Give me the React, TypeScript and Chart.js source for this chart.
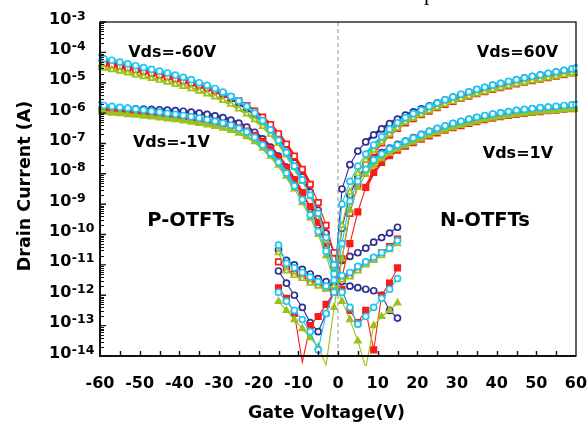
import React, { useEffect, useRef } from "react";
import { Chart, registerables } from "chart.js";

Chart.register(...registerables);

// Gate voltage sweeps (V)
const P_GATE = [-60, -59, -57, -55, -53, -51, -49, -47, -45, -43, -41, -39, -37, -35, -33, -31, -29, -27, -25, -23, -21, -19, -17, -15, -13, -11, -9, -7, -5, -3, -1, 1, 3, 5, 7, 9, 11, 13, 15];
const N_GATE = [-15, -13, -11, -9, -7, -5, -3, -1, 1, 3, 5, 7, 9, 11, 13, 15, 17, 19, 21, 23, 25, 27, 29, 31, 33, 35, 37, 39, 41, 43, 45, 47, 49, 51, 53, 55, 57, 59, 60];

// P-OTFTs, Vds = -60 V (A)
const P60_CYAN = [6.61e-5, 6.17e-5, 5.5e-5, 4.79e-5, 4.17e-5, 3.63e-5, 3.16e-5, 2.75e-5, 2.4e-5, 2.09e-5, 1.78e-5, 1.51e-5, 1.26e-5, 1.0e-5, 8.13e-6, 6.46e-6, 4.9e-6, 3.55e-6, 2.51e-6, 1.66e-6, 1.0e-6, 5.62e-7, 2.82e-7, 1.26e-7, 5.01e-8, 1.78e-8, 6.31e-9, 2.0e-9, 5.01e-10, 7.94e-11, 1.0e-11, 4.47e-12, 5.62e-12, 8.91e-12, 1.26e-11, 1.78e-11, 2.51e-11, 3.55e-11, 6.31e-11];
const P60_RED = [4.47e-5, 4.27e-5, 3.8e-5, 3.39e-5, 3.02e-5, 2.63e-5, 2.34e-5, 2.04e-5, 1.78e-5, 1.55e-5, 1.35e-5, 1.15e-5, 9.77e-6, 8.13e-6, 6.76e-6, 5.5e-6, 4.37e-6, 3.39e-6, 2.51e-6, 1.78e-6, 1.17e-6, 7.41e-7, 4.17e-7, 2.09e-7, 9.55e-8, 3.8e-8, 1.41e-8, 4.47e-9, 1.12e-9, 2.0e-10, 2.51e-11, 3.98e-12, 5.01e-12, 7.94e-12, 1.12e-11, 1.58e-11, 2.51e-11, 3.98e-11, 7.08e-11];
const P60_GREEN = [3.16e-5, 3.02e-5, 2.69e-5, 2.4e-5, 2.09e-5, 1.82e-5, 1.58e-5, 1.38e-5, 1.2e-5, 1.05e-5, 8.91e-6, 7.59e-6, 6.31e-6, 5.25e-6, 4.27e-6, 3.39e-6, 2.63e-6, 1.95e-6, 1.38e-6, 9.33e-7, 6.03e-7, 3.63e-7, 2.0e-7, 1.0e-7, 4.17e-8, 1.58e-8, 5.62e-9, 1.78e-9, 4.47e-10, 6.31e-11, 7.94e-12, 3.16e-12, 3.98e-12, 6.31e-12, 1.0e-11, 1.41e-11, 2.0e-11, 3.16e-11, 5.01e-11];
const P60_NAVY = [5.37e-5, 5.01e-5, 4.47e-5, 3.89e-5, 3.39e-5, 2.95e-5, 2.57e-5, 2.24e-5, 1.95e-5, 1.7e-5, 1.45e-5, 1.23e-5, 1.02e-5, 8.32e-6, 6.76e-6, 5.37e-6, 4.07e-6, 3.02e-6, 2.14e-6, 1.45e-6, 9.12e-7, 5.37e-7, 2.88e-7, 1.41e-7, 6.03e-8, 2.29e-8, 7.94e-9, 2.51e-9, 6.31e-10, 1.12e-10, 2.51e-11, 1.41e-11, 1.91e-11, 2.51e-11, 3.55e-11, 5.62e-11, 7.94e-11, 1.12e-10, 1.74e-10];

// P-OTFTs, Vds = -1 V (A)
const P1_CYAN = [1.86e-6, 1.78e-6, 1.66e-6, 1.55e-6, 1.45e-6, 1.35e-6, 1.26e-6, 1.15e-6, 1.07e-6, 9.77e-7, 9.12e-7, 8.32e-7, 7.59e-7, 6.76e-7, 6.03e-7, 5.37e-7, 4.68e-7, 3.98e-7, 3.16e-7, 2.4e-7, 1.58e-7, 8.91e-8, 4.79e-8, 2.4e-8, 1.05e-8, 3.98e-9, 1.41e-9, 4.47e-10, 1.26e-10, 2.82e-11, 5.01e-12, 1.26e-12, 3.98e-13, 1.12e-13, 2.0e-13, 3.98e-13, 7.94e-13, 1.58e-12, 3.55e-12];
const P1_RED = [1.41e-6, 1.38e-6, 1.29e-6, 1.23e-6, 1.15e-6, 1.1e-6, 1.02e-6, 9.55e-7, 8.91e-7, 8.32e-7, 7.76e-7, 7.24e-7, 6.61e-7, 6.03e-7, 5.5e-7, 5.01e-7, 4.47e-7, 3.89e-7, 3.24e-7, 2.57e-7, 1.86e-7, 1.17e-7, 6.61e-8, 3.47e-8, 1.58e-8, 6.31e-9, 2.4e-9, 8.32e-10, 2.51e-10, 5.01e-11, 1.0e-11, 1.58e-12, 3.16e-13, 1.26e-13, 3.16e-13, 1.58e-14, 1.0e-12, 2.51e-12, 7.94e-12];
const P1_GREEN = [1.1e-6, 1.07e-6, 1.0e-6, 9.55e-7, 8.91e-7, 8.51e-7, 7.94e-7, 7.41e-7, 6.92e-7, 6.46e-7, 6.03e-7, 5.5e-7, 5.01e-7, 4.57e-7, 4.07e-7, 3.63e-7, 3.16e-7, 2.69e-7, 2.19e-7, 1.66e-7, 1.15e-7, 6.92e-8, 3.8e-8, 1.91e-8, 8.32e-9, 3.16e-9, 1.12e-9, 3.55e-10, 1.0e-10, 2.0e-11, 3.16e-12, 6.31e-13, 1.58e-13, 3.16e-14, 3.98e-15, 1.0e-13, 2.0e-13, 3.16e-13, 5.62e-13];
const P1_NAVY = [1.51e-6, 1.51e-6, 1.48e-6, 1.45e-6, 1.41e-6, 1.38e-6, 1.35e-6, 1.32e-6, 1.29e-6, 1.26e-6, 1.2e-6, 1.15e-6, 1.07e-6, 1.0e-6, 9.12e-7, 8.13e-7, 7.08e-7, 5.89e-7, 4.68e-7, 3.47e-7, 2.34e-7, 1.41e-7, 7.59e-8, 3.8e-8, 1.66e-8, 6.31e-9, 2.24e-9, 7.08e-10, 2.0e-10, 3.98e-11, 7.94e-12, 2.82e-12, 2.0e-12, 1.78e-12, 1.58e-12, 1.41e-12, 1.0e-12, 3.16e-13, 1.78e-13];

// N-OTFTs, Vds = 60 V (A)
const N60_CYAN = [4.47e-11, 1.12e-11, 7.94e-12, 5.62e-12, 3.98e-12, 2.82e-12, 2.0e-12, 3.16e-12, 1.0e-9, 5.62e-9, 1.78e-8, 4.47e-8, 8.91e-8, 1.66e-7, 2.95e-7, 4.79e-7, 7.08e-7, 9.55e-7, 1.26e-6, 1.66e-6, 2.14e-6, 2.75e-6, 3.39e-6, 4.17e-6, 5.01e-6, 6.03e-6, 7.08e-6, 8.32e-6, 9.55e-6, 1.1e-5, 1.26e-5, 1.45e-5, 1.62e-5, 1.82e-5, 2.04e-5, 2.29e-5, 2.57e-5, 2.88e-5, 3.02e-5];
const N60_GREEN = [2.51e-11, 6.31e-12, 4.47e-12, 3.55e-12, 2.51e-12, 2.0e-12, 1.58e-12, 2.0e-12, 2.0e-10, 2.51e-9, 1.0e-8, 2.82e-8, 6.03e-8, 1.12e-7, 2.0e-7, 3.24e-7, 4.9e-7, 6.76e-7, 8.91e-7, 1.17e-6, 1.51e-6, 1.95e-6, 2.4e-6, 2.95e-6, 3.55e-6, 4.27e-6, 5.01e-6, 5.89e-6, 6.76e-6, 7.76e-6, 8.91e-6, 1.02e-5, 1.15e-5, 1.29e-5, 1.45e-5, 1.62e-5, 1.82e-5, 2.04e-5, 2.14e-5];
const N60_RED = [1.26e-11, 7.08e-12, 5.01e-12, 3.98e-12, 3.16e-12, 2.51e-12, 1.78e-12, 1.26e-12, 1.58e-11, 5.01e-10, 4.47e-9, 2.0e-8, 5.25e-8, 1.05e-7, 1.91e-7, 3.16e-7, 4.79e-7, 6.61e-7, 8.91e-7, 1.17e-6, 1.51e-6, 1.95e-6, 2.45e-6, 3.02e-6, 3.63e-6, 4.37e-6, 5.13e-6, 6.03e-6, 6.92e-6, 7.94e-6, 9.12e-6, 1.05e-5, 1.17e-5, 1.32e-5, 1.48e-5, 1.66e-5, 1.86e-5, 2.09e-5, 2.19e-5];
const N60_NAVY = [3.16e-11, 1.41e-11, 1.0e-11, 7.08e-12, 5.01e-12, 3.55e-12, 2.82e-12, 2.0e-12, 3.16e-9, 2.0e-8, 5.62e-8, 1.12e-7, 1.91e-7, 3.02e-7, 4.47e-7, 6.31e-7, 8.51e-7, 1.1e-6, 1.38e-6, 1.74e-6, 2.19e-6, 2.75e-6, 3.39e-6, 4.07e-6, 4.9e-6, 5.89e-6, 6.92e-6, 8.13e-6, 9.33e-6, 1.07e-5, 1.23e-5, 1.41e-5, 1.58e-5, 1.78e-5, 2.0e-5, 2.24e-5, 2.51e-5, 2.82e-5, 2.95e-5];

// N-OTFTs, Vds = 1 V (A)
const N1_CYAN = [1.26e-12, 6.31e-13, 3.16e-13, 1.58e-13, 6.31e-14, 1.58e-14, 2.51e-13, 1.26e-12, 5.01e-11, 1.26e-9, 5.62e-9, 1.41e-8, 2.82e-8, 4.47e-8, 6.61e-8, 8.91e-8, 1.17e-7, 1.51e-7, 1.95e-7, 2.51e-7, 3.16e-7, 3.8e-7, 4.57e-7, 5.37e-7, 6.31e-7, 7.24e-7, 8.32e-7, 9.33e-7, 1.02e-6, 1.12e-6, 1.23e-6, 1.32e-6, 1.41e-6, 1.51e-6, 1.58e-6, 1.66e-6, 1.78e-6, 1.86e-6, 1.91e-6];
const N1_GREEN = [6.31e-13, 3.16e-13, 1.58e-13, 7.94e-14, 3.98e-14, 2.0e-14, 5.01e-15, 3.98e-13, 1.58e-11, 6.31e-10, 3.55e-9, 9.55e-9, 1.91e-8, 3.16e-8, 4.68e-8, 6.46e-8, 8.51e-8, 1.1e-7, 1.41e-7, 1.82e-7, 2.29e-7, 2.75e-7, 3.31e-7, 3.89e-7, 4.57e-7, 5.25e-7, 6.03e-7, 6.76e-7, 7.41e-7, 8.13e-7, 8.91e-7, 9.55e-7, 1.02e-6, 1.1e-6, 1.15e-6, 1.2e-6, 1.29e-6, 1.35e-6, 1.38e-6];
const N1_RED = [1.74e-12, 7.94e-13, 2.51e-13, 6.31e-15, 1.0e-13, 2.0e-13, 5.01e-13, 1.26e-12, 3.98e-12, 5.01e-11, 5.62e-10, 3.55e-9, 1.12e-8, 2.4e-8, 3.98e-8, 6.03e-8, 8.13e-8, 1.07e-7, 1.38e-7, 1.78e-7, 2.24e-7, 2.75e-7, 3.31e-7, 3.89e-7, 4.57e-7, 5.25e-7, 6.03e-7, 6.76e-7, 7.59e-7, 8.32e-7, 9.12e-7, 9.77e-7, 1.05e-6, 1.12e-6, 1.2e-6, 1.26e-6, 1.35e-6, 1.41e-6, 1.45e-6];
const N1_NAVY = [6.31e-12, 2.51e-12, 1.0e-12, 3.98e-13, 1.26e-13, 6.31e-14, 2.51e-13, 1.58e-12, 1.58e-10, 2.0e-9, 7.94e-9, 1.78e-8, 3.31e-8, 5.01e-8, 7.08e-8, 9.33e-8, 1.2e-7, 1.55e-7, 2.0e-7, 2.51e-7, 3.09e-7, 3.72e-7, 4.47e-7, 5.25e-7, 6.17e-7, 7.08e-7, 8.13e-7, 9.12e-7, 1.0e-6, 1.1e-6, 1.2e-6, 1.29e-6, 1.38e-6, 1.48e-6, 1.55e-6, 1.62e-6, 1.74e-6, 1.82e-6, 1.86e-6];

// Vg = 0 reference line
const ZERO_LINE_X = [0, 0];
const ZERO_LINE_Y = [1e-3, 1e-14];

// Axis ticks
const X_LABELS = [-60, -50, -40, -30, -20, -10, 0, 10, 20, 30, 40, 50, 60];
const X_MARKS = [-55, -50, -45, -40, -35, -30, -25, -20, -15, -10, -5, 0, 5, 10, 15, 20, 25, 30, 35, 40, 45, 50, 55];
const Y_EXPONENTS = [-3, -4, -5, -6, -7, -8, -9, -10, -11, -12, -13, -14];
const Y_MINOR_MULT = [2, 3, 4, 5, 6, 7, 8, 9];

const NAVY = "#2e3192";
const RED = "#ff1a1a";
const CYAN = "#1ec6f2";
const GREEN = "#99c31a";

const SERIES = [
  { label: "P Vds=-60V a", gate: P_GATE, current: P60_CYAN, color: CYAN, marker: "circle", filled: false, layer: 1 },
  { label: "P Vds=-60V b", gate: P_GATE, current: P60_GREEN, color: GREEN, marker: "triangle", filled: false, layer: 2 },
  { label: "P Vds=-60V c", gate: P_GATE, current: P60_RED, color: RED, marker: "rect", filled: false, layer: 3 },
  { label: "P Vds=-60V d", gate: P_GATE, current: P60_NAVY, color: NAVY, marker: "circle", filled: false, layer: 4 },
  { label: "P Vds=-1V a", gate: P_GATE, current: P1_CYAN, color: CYAN, marker: "circle", filled: false, layer: 1 },
  { label: "P Vds=-1V b", gate: P_GATE, current: P1_GREEN, color: GREEN, marker: "triangle", filled: true, layer: 2 },
  { label: "P Vds=-1V c", gate: P_GATE, current: P1_RED, color: RED, marker: "rect", filled: true, layer: 3 },
  { label: "P Vds=-1V d", gate: P_GATE, current: P1_NAVY, color: NAVY, marker: "circle", filled: false, layer: 4 },
  { label: "N Vds=60V a", gate: N_GATE, current: N60_CYAN, color: CYAN, marker: "circle", filled: false, layer: 1 },
  { label: "N Vds=60V b", gate: N_GATE, current: N60_GREEN, color: GREEN, marker: "triangle", filled: false, layer: 2 },
  { label: "N Vds=60V c", gate: N_GATE, current: N60_RED, color: RED, marker: "rect", filled: false, layer: 3 },
  { label: "N Vds=60V d", gate: N_GATE, current: N60_NAVY, color: NAVY, marker: "circle", filled: false, layer: 4 },
  { label: "N Vds=1V a", gate: N_GATE, current: N1_CYAN, color: CYAN, marker: "circle", filled: false, layer: 1 },
  { label: "N Vds=1V b", gate: N_GATE, current: N1_GREEN, color: GREEN, marker: "triangle", filled: true, layer: 2 },
  { label: "N Vds=1V c", gate: N_GATE, current: N1_RED, color: RED, marker: "rect", filled: true, layer: 3 },
  { label: "N Vds=1V d", gate: N_GATE, current: N1_NAVY, color: NAVY, marker: "circle", filled: false, layer: 4 },
];

const ANNOTATIONS = [
  { text: "Vds=-60V", x: -52.9, y: 7.1e-5, size: 16 },
  { text: "Vds=-1V", x: -51.7, y: 7.8e-8, size: 16 },
  { text: "Vds=60V", x: 35.0, y: 7.2e-5, size: 16 },
  { text: "Vds=1V", x: 36.5, y: 3.3e-8, size: 16 },
  { text: "P-OTFTs", x: -48.1, y: 1.9e-10, size: 19.5 },
  { text: "N-OTFTs", x: 25.7, y: 1.9e-10, size: 19.5 },
];

const FONT = '"DejaVu Sans", "Liberation Sans", sans-serif';

const decorPlugin = {
  id: "decor",
  afterDatasetsDraw(chart: any) {
    const { ctx, chartArea: a, scales } = chart;
    const xs = scales.x;
    const ys = scales.y;
    ctx.save();
    ctx.strokeStyle = "#111";
    ctx.fillStyle = "#000";

    // frame
    ctx.lineWidth = 1.3;
    ctx.strokeRect(a.left, a.top, a.right - a.left, a.bottom - a.top);
    ctx.lineWidth = 2;
    ctx.beginPath();
    ctx.moveTo(a.left, a.top);
    ctx.lineTo(a.left, a.bottom);
    ctx.lineTo(a.right, a.bottom);
    ctx.stroke();

    // x ticks (inward)
    ctx.lineWidth = 1.4;
    ctx.beginPath();
    for (const v of X_MARKS) {
      const px = Math.round(xs.getPixelForValue(v)) + 0.5;
      ctx.moveTo(px, a.bottom);
      ctx.lineTo(px, a.bottom - 5);
    }
    // y major ticks (inward)
    for (const e of Y_EXPONENTS) {
      const py = ys.getPixelForValue(Math.pow(10, e));
      ctx.moveTo(a.left, py);
      ctx.lineTo(a.left + 6, py);
    }
    ctx.stroke();
    ctx.lineWidth = 1;
    ctx.beginPath();
    for (const e of Y_EXPONENTS) {
      if (e === -3) continue;
      for (const m of Y_MINOR_MULT) {
        const py = Math.round(ys.getPixelForValue(m * Math.pow(10, e))) + 0.5;
        ctx.moveTo(a.left, py);
        ctx.lineTo(a.left + 4, py);
      }
    }
    ctx.stroke();

    // x tick labels
    ctx.font = `bold 16px ${FONT}`;
    ctx.textAlign = "center";
    ctx.textBaseline = "alphabetic";
    for (const v of X_LABELS) {
      ctx.fillText(String(v), xs.getPixelForValue(v), a.bottom + 32);
    }

    // y tick labels 10^e
    for (const e of Y_EXPONENTS) {
      const py = ys.getPixelForValue(Math.pow(10, e));
      ctx.textAlign = "left";
      ctx.font = `bold 16px ${FONT}`;
      ctx.fillText("10", 49, py + 1.5);
      const w = ctx.measureText("10").width;
      ctx.font = `bold 12.5px ${FONT}`;
      ctx.fillText(String(e), 49 + w + 0.5, py - 2.5);
    }

    // axis titles
    ctx.font = `bold 17.5px ${FONT}`;
    ctx.textAlign = "center";
    ctx.fillText("Gate Voltage(V)", 326.5, 418);
    ctx.save();
    ctx.translate(29.5, 186);
    ctx.rotate(-Math.PI / 2);
    ctx.fillText("Drain Current (A)", 0, 0);
    ctx.restore();

    // annotations
    ctx.textAlign = "left";
    for (const an of ANNOTATIONS) {
      ctx.font = `bold ${an.size}px ${FONT}`;
      ctx.fillText(an.text, xs.getPixelForValue(an.x), ys.getPixelForValue(an.y));
    }

    // clipped caption fragment at the top edge
    ctx.font = '22px "Liberation Serif", serif';
    ctx.fillText("p", 424, 0);

    ctx.restore();
  },
};

// thick "tube" look for the smooth on-state sections, thin lines elsewhere
const segmentWidth = (c: any) =>
  c.p0.parsed.y > 2e-9 && c.p1.parsed.y > 2e-9 && Math.abs(c.p0.parsed.x) > 6 && Math.abs(c.p1.parsed.x) > 6 ? 3 : 1.1;

export default function App() {
  const canvasRef = useRef<HTMLCanvasElement | null>(null);

  useEffect(() => {
    const canvas = canvasRef.current;
    if (!canvas) return;

    const datasets: any[] = SERIES.map((s) => ({
      label: s.label,
      data: s.gate.map((g, i) => ({ x: g, y: s.current[i] })),
      showLine: true,
      borderColor: s.color,
      backgroundColor: s.filled ? s.color : "#ffffff",
      pointBorderColor: s.color,
      pointBackgroundColor: s.filled ? s.color : "#ffffff",
      pointStyle: s.marker,
      pointRadius: s.marker === "rect" ? 3.9 : s.marker === "triangle" ? 3.4 : 3.0,
      pointBorderWidth: 1.7,
      borderWidth: 1.1,
      segment: { borderWidth: segmentWidth },
      order: s.layer,
      clip: { left: 2, top: 2, right: 2, bottom: 10 },
    }));

    datasets.push({
      label: "Vg=0",
      data: ZERO_LINE_X.map((x, i) => ({ x, y: ZERO_LINE_Y[i] })),
      showLine: true,
      borderColor: "#a8a8a8",
      borderDash: [4, 3],
      borderWidth: 1.3,
      pointRadius: 0,
      order: 20,
    });

    const chart = new Chart(canvas, {
      type: "scatter",
      data: { datasets },
      options: {
        animation: false,
        responsive: false,
        events: [],
        layout: { padding: { left: 0, right: 11, top: 22, bottom: 0 } },
        plugins: { legend: { display: false }, tooltip: { enabled: false } },
        scales: {
          x: {
            type: "linear",
            min: -60,
            max: 60,
            grid: { display: false },
            border: { display: false },
            ticks: { display: false },
            afterFit: (s: any) => {
              s.height = 67;
            },
          },
          y: {
            type: "logarithmic",
            min: 1e-14,
            max: 1e-3,
            grid: { display: false },
            border: { display: false },
            ticks: { display: false },
            afterFit: (s: any) => {
              s.width = 100;
            },
          },
        },
      } as any,
      plugins: [decorPlugin],
    });

    return () => chart.destroy();
  }, []);

  return (
    <canvas
      ref={canvasRef}
      width={587}
      height={423}
      style={{ position: "absolute", left: 0, top: 0, display: "block", background: "#fff" }}
    />
  );
}
